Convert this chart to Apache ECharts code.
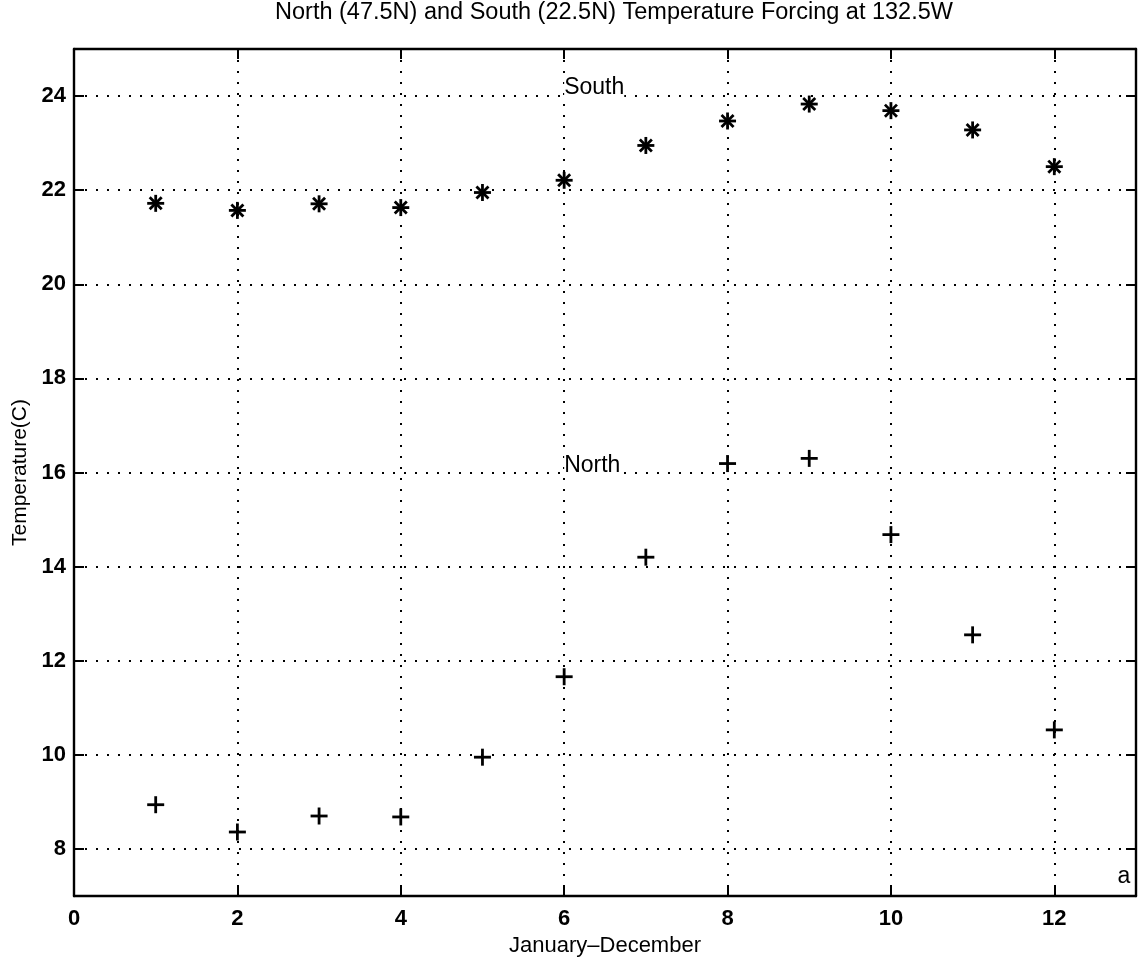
<!DOCTYPE html>
<html>
<head>
<meta charset="utf-8">
<script src="https://cdn.jsdelivr.net/npm/echarts@6/dist/echarts.min.js"></script>
<style>
  html, body { margin: 0; padding: 0; background: #ffffff; }
  #chart { width: 1140px; height: 963px; }
</style>
</head>
<body>
<div id="chart"></div>
<script>
// Monthly temperature forcing (deg C), January..December
const months = [1, 2, 3, 4, 5, 6, 7, 8, 9, 10, 11, 12];
const southTemp = [21.72, 21.57, 21.71, 21.63, 21.95, 22.21, 22.95, 23.47, 23.83, 23.69, 23.28, 22.50];
const northTemp = [8.94, 8.36, 8.70, 8.68, 9.95, 11.66, 14.20, 16.19, 16.30, 14.68, 12.55, 10.53];

// Axis ranges
const xRange = [0, 13];
const yRange = [7, 25];
const tickStep = 2;

// In-plot text annotations [x, y, text]
const annotations = [
  [6.0, 24.17, 'South'],
  [6.0, 16.15, 'North']
];
const panelTag = [12.93, 7.42, 'a'];

const titleText = 'North (47.5N) and South (22.5N) Temperature Forcing at 132.5W';
const xName = 'January\u2013December';
const yName = 'Temperature(C)';

const FONT = '"Liberation Sans", Arial, Helvetica, sans-serif';
const INK = '#000000';

const chart = echarts.init(document.getElementById('chart'), null, { renderer: 'canvas' });

const dotted = { color: INK, width: 2, type: [2, 9] };

function boxAxis(extra) {
  return Object.assign({
    type: 'value',
    minInterval: tickStep,
    maxInterval: tickStep,
    axisLine: { show: true, onZero: false, lineStyle: { color: INK, width: 2.4 } },
    axisTick: { show: true, inside: true, length: 10, lineStyle: { color: INK, width: 2 } },
    axisLabel: { show: false },
    splitLine: { show: false }
  }, extra);
}

// '+' marker
function plusItem(params, api) {
  const p = api.coord([api.value(0), api.value(1)]);
  const h = 8.5;
  const style = { stroke: INK, lineWidth: 2.8 };
  return {
    type: 'group',
    children: [
      { type: 'line', shape: { x1: p[0] - h, y1: p[1], x2: p[0] + h, y2: p[1] }, style },
      { type: 'line', shape: { x1: p[0], y1: p[1] - h, x2: p[0], y2: p[1] + h }, style }
    ]
  };
}

// '*' marker: eight spokes
function starItem(params, api) {
  const p = api.coord([api.value(0), api.value(1)]);
  const h = 8.5;
  const style = { stroke: INK, lineWidth: 2.8 };
  const children = [];
  for (let k = 0; k < 4; k++) {
    const a = k * Math.PI / 4;
    const dx = Math.cos(a) * h, dy = Math.sin(a) * h;
    children.push({ type: 'line', shape: { x1: p[0] - dx, y1: p[1] - dy, x2: p[0] + dx, y2: p[1] + dy }, style });
  }
  return { type: 'group', children };
}

const textLabel = {
  show: true,
  position: [0, 0],
  verticalAlign: 'middle',
  formatter: p => p.name,
  fontFamily: FONT, fontSize: 23, color: INK, opacity: 1
};

const option = {
  backgroundColor: '#ffffff',
  animation: false,
  graphic: [{
    type: 'text',
    x: 614,
    y: 13,
    style: {
      text: titleText,
      font: '23.5px ' + FONT,
      fill: INK,
      align: 'center',
      verticalAlign: 'middle'
    }
  }],
  grid: { left: 74, right: 4, top: 49, bottom: 67, containLabel: false },
  xAxis: [
    boxAxis({
      position: 'bottom',
      min: xRange[0], max: xRange[1],
      name: xName,
      nameLocation: 'middle',
      nameGap: 31,
      nameTextStyle: { fontFamily: FONT, fontSize: 22, color: INK },
      axisLabel: {
        show: true, showMaxLabel: false, margin: 12,
        fontFamily: FONT, fontSize: 22, fontWeight: 'bold', color: INK
      },
      splitLine: { show: true, lineStyle: dotted }
    }),
    boxAxis({ position: 'top', min: xRange[0], max: xRange[1] })
  ],
  yAxis: [
    boxAxis({
      position: 'left',
      min: yRange[0], max: yRange[1],
      splitNumber: 9,
      name: yName,
      nameLocation: 'middle',
      nameGap: 38,
      nameTextStyle: { fontFamily: FONT, fontSize: 21, color: INK },
      axisLabel: {
        show: true, showMinLabel: false, showMaxLabel: false, margin: 8,
        fontFamily: FONT, fontSize: 22, fontWeight: 'bold', color: INK
      },
      splitLine: { show: true, lineStyle: dotted }
    }),
    boxAxis({ position: 'right', min: yRange[0], max: yRange[1], splitNumber: 9 })
  ],
  series: [
    {
      name: 'South',
      type: 'custom',
      xAxisIndex: 0, yAxisIndex: 0,
      renderItem: starItem,
      data: months.map((m, i) => [m, southTemp[i]]),
      z: 5
    },
    {
      name: 'North',
      type: 'custom',
      xAxisIndex: 0, yAxisIndex: 0,
      renderItem: plusItem,
      data: months.map((m, i) => [m, northTemp[i]]),
      z: 5
    },
    {
      name: 'labels',
      type: 'scatter',
      xAxisIndex: 0, yAxisIndex: 0,
      symbolSize: 0,
      silent: true,
      itemStyle: { opacity: 1 },
      data: annotations.map(a => ({ value: [a[0], a[1]], name: a[2] })),
      label: Object.assign({}, textLabel, { align: 'left', backgroundColor: '#ffffff' }),
      z: 6
    },
    {
      name: 'tag',
      type: 'scatter',
      xAxisIndex: 0, yAxisIndex: 0,
      symbolSize: 0,
      silent: true,
      itemStyle: { opacity: 1 },
      data: [{ value: [panelTag[0], panelTag[1]], name: panelTag[2] }],
      label: Object.assign({}, textLabel, { align: 'right' }),
      z: 6
    }
  ]
};

chart.setOption(option);
</script>
</body>
</html>
